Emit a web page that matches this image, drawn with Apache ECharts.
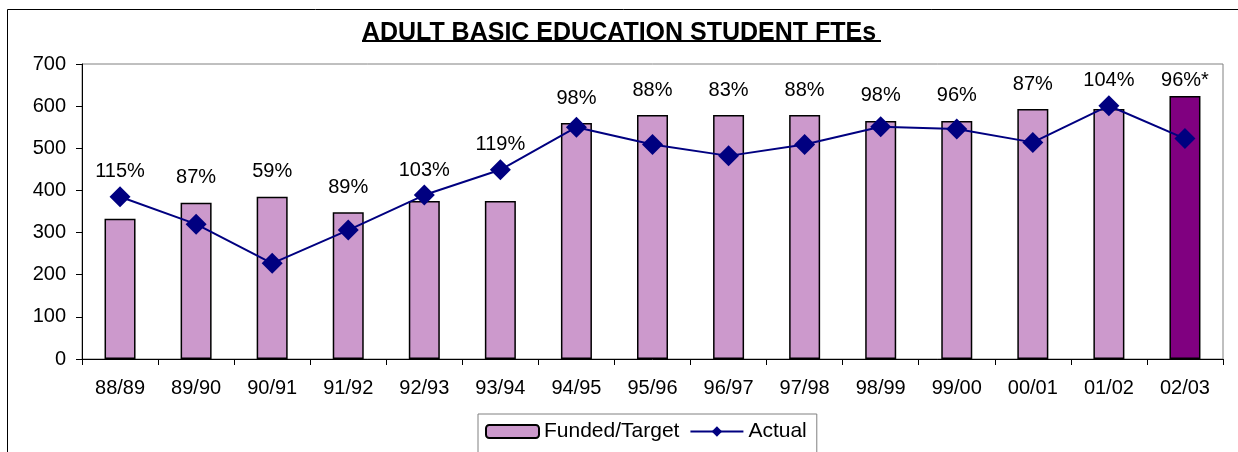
<!DOCTYPE html>
<html>
<head>
<meta charset="utf-8">
<script src="https://cdn.jsdelivr.net/npm/echarts@6/dist/echarts.min.js"></script>
<style>
html,body{margin:0;padding:0;background:#fff;}
#chart{width:1238px;height:452px;}
</style>
</head>
<body>
<div id="chart"></div>
<script>
const categories = ['88/89','89/90','90/91','91/92','92/93','93/94','94/95','95/96','96/97','97/98','98/99','99/00','00/01','01/02','02/03'];
const fundedTarget = [333, 371, 385, 348, 375, 375, 560, 579, 579, 579, 565, 565, 593, 593, 624];
const actual = [385, 320, 227, 306, 389, 449, 550, 509, 482, 509, 551, 546, 514, 601, 523];
const pctLabels = ['115%','87%','59%','89%','103%','119%','98%','88%','83%','88%','98%','96%','87%','104%','96%*'];
const yTicks = [0, 100, 200, 300, 400, 500, 600, 700];

const FONT = 'Liberation Sans, Arial, sans-serif';
const lastIdx = fundedTarget.length - 1;
const barColors = fundedTarget.map((v, i) => i === lastIdx ? '#800080' : '#CC99CC');
const labelAnchor = fundedTarget.map((v, i) => Math.max(v, actual[i]));

const chart = echarts.init(document.getElementById('chart'));
chart.setOption({
  animation: false,
  backgroundColor: '#ffffff',
  textStyle: { fontFamily: FONT },
  title: {
    text: 'ADULT BASIC EDUCATION STUDENT FTEs',
    left: 'center',
    top: 16,
    textStyle: { fontFamily: FONT, fontWeight: 'bold', fontSize: 25, color: '#000' }
  },
  graphic: [
    { type: 'rect', shape: { x: 7.5, y: 9.5, width: 1400, height: 600 }, style: { fill: 'none', stroke: '#000', lineWidth: 1 }, silent: true, z: -1 },
    { type: 'line', shape: { x1: 362, y1: 41, x2: 881, y2: 41 }, style: { stroke: '#000', lineWidth: 2 }, silent: true }
  ],
  legend: {
    data: ['Funded/Target', 'Actual'],
    left: 478,
    top: 414,
    padding: [7, 10, 40, 7],
    borderColor: '#808080',
    borderWidth: 1,
    itemWidth: 53,
    itemHeight: 13,
    itemGap: 10,
    textStyle: { fontFamily: FONT, fontSize: 21, color: '#000' }
  },
  grid: {
    left: 82, right: 15, top: 64, bottom: 93,
    show: true, borderColor: '#808080', borderWidth: 1, backgroundColor: 'transparent'
  },
  xAxis: {
    type: 'category',
    data: categories,
    axisLine: { lineStyle: { color: '#000', width: 1 } },
    axisTick: { show: true, length: 6, interval: 0, lineStyle: { color: '#000' } },
    axisLabel: { interval: 0, margin: 19, fontFamily: FONT, fontSize: 20, color: '#000' },
    splitLine: { show: false }
  },
  yAxis: {
    type: 'value',
    min: yTicks[0],
    max: yTicks[yTicks.length - 1],
    interval: 100,
    axisLine: { show: true, lineStyle: { color: '#000', width: 1 } },
    axisTick: { show: true, length: 6, lineStyle: { color: '#000' } },
    axisLabel: { margin: 16, fontFamily: FONT, fontSize: 20, color: '#000' },
    splitLine: { show: false }
  },
  series: [
    {
      name: 'Funded/Target',
      type: 'bar',
      barWidth: 31,
      data: fundedTarget.map((v, i) => ({ value: v, itemStyle: { color: barColors[i] } })),
      itemStyle: { color: '#CC99CC', borderColor: '#000', borderWidth: 1.5 }
    },
    {
      name: 'Actual',
      type: 'line',
      data: actual,
      symbol: 'diamond',
      symbolSize: 21,
      lineStyle: { color: '#000080', width: 2 },
      itemStyle: { color: '#000080' },
      z: 5
    },
    {
      name: 'labels',
      type: 'scatter',
      data: labelAnchor.map((v, i) => i === lastIdx ? { value: v, label: { distance: 6 } } : v),
      symbolSize: 0,
      silent: true,
      itemStyle: { opacity: 1 },
      label: {
        show: true,
        position: 'top',
        distance: 15,
        fontFamily: FONT,
        fontSize: 20,
        color: '#000',
        opacity: 1,
        formatter: p => pctLabels[p.dataIndex]
      },
      z: 6
    }
  ]
});
</script>
</body>
</html>
